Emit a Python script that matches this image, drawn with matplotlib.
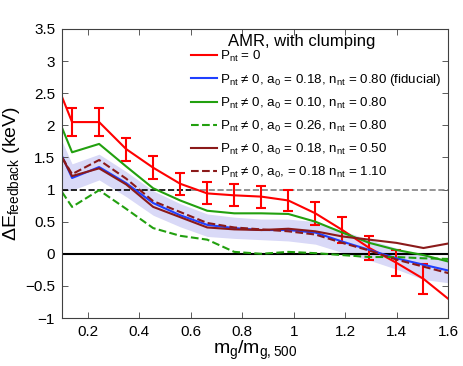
import numpy as np
import matplotlib
matplotlib.use('Agg')
import matplotlib.pyplot as plt

plt.rcParams['font.family'] = ['Liberation Sans', 'DejaVu Sans']
plt.rcParams['mathtext.fontset'] = 'custom'
plt.rcParams['mathtext.rm'] = 'Liberation Sans'
plt.rcParams['mathtext.it'] = 'Liberation Sans'

# mass bins (edges at 0.1 and 1.6 are where lines meet the frame)
x = [0.1, 0.139, 0.244, 0.349, 0.454, 0.559, 0.664, 0.769, 0.874, 0.979,
     1.084, 1.189, 1.294, 1.399, 1.504, 1.6]

red = [2.44, 2.05, 2.05, 1.63, 1.34, 1.09, 0.94, 0.91, 0.89, 0.83,
       0.63, 0.37, 0.09, -0.14, -0.39, -0.70]
red_err = [0.22, 0.22, 0.18, 0.18, 0.17, 0.17, 0.17, 0.17, 0.17,
           0.18, 0.20, 0.19, 0.20, 0.23]

blue = [1.52, 1.18, 1.35, 1.10, 0.79, 0.60, 0.45, 0.40, 0.37, 0.37,
        0.33, 0.19, 0.06, -0.07, -0.17, -0.26]
band_hi = [1.75, 1.40, 1.55, 1.28, 0.98, 0.78, 0.62, 0.57, 0.54, 0.54,
           0.50, 0.36, 0.22, 0.09, -0.02, -0.10]
band_lo = [0.98, 0.99, 1.15, 0.89, 0.60, 0.42, 0.27, 0.24, 0.22, 0.20,
           0.15, 0.02, -0.10, -0.24, -0.40, -0.45]

green = [1.96, 1.58, 1.71, 1.36, 1.02, 0.83, 0.67, 0.63, 0.63, 0.62,
         0.50, 0.33, 0.17, 0.06, -0.02, -0.12]
green_d = [0.96, 0.73, 0.99, 0.70, 0.40, 0.28, 0.22, 0.03, 0.0, 0.03,
           0.01, -0.02, -0.05, -0.05, -0.07, -0.08]
brown = [1.50, 1.21, 1.33, 1.08, 0.73, 0.57, 0.41, 0.38, 0.37, 0.39,
         0.35, 0.27, 0.22, 0.17, 0.09, 0.16]
brown_d = [1.50, 1.24, 1.46, 1.17, 0.82, 0.65, 0.48, 0.41, 0.38, 0.35,
           0.30, 0.17, 0.05, -0.09, -0.20, -0.30]

labels = [r'P$_{\rm nt}$ = 0',
          r'P$_{\rm nt}$ ≠ 0, a$_{\rm 0}$ = 0.18, n$_{\rm nt}$ = 0.80 (fiducial)',
          r'P$_{\rm nt}$ ≠ 0, a$_{\rm 0}$ = 0.10, n$_{\rm nt}$ = 0.80',
          r'P$_{\rm nt}$ ≠ 0, a$_{\rm 0}$ = 0.26, n$_{\rm nt}$ = 0.80',
          r'P$_{\rm nt}$ ≠ 0, a$_{\rm 0}$ = 0.18, n$_{\rm nt}$ = 0.50',
          r'P$_{\rm nt}$ ≠ 0, a$_{\rm 0}$, = 0.18 n$_{\rm nt}$ = 1.10']

fig = plt.figure(figsize=(4.63, 3.66), dpi=100)
ax = fig.add_axes([0.134, 0.131, 0.834, 0.79])

ax.fill_between(x, band_lo, band_hi, color='#d9d9f7', lw=0)
ax.axhline(0, color='k', lw=1.5)
ax.plot([0.1, 0.6], [1, 1], 'k--', lw=1.2)
ax.plot([0.6, 1.6], [1, 1], '--', color='#808080', lw=1.2)

ax.plot(x, red, color='#ff0000', lw=1.5, label=labels[0])
ax.errorbar(x[1:-1], red[1:-1], yerr=red_err, fmt='none', ecolor='#ff0000',
            elinewidth=1.5, capsize=3.8, capthick=1.5)
ax.plot(x, blue, color='#1f3fff', lw=1.5, label=labels[1])
ax.plot(x, green, color='#22a00f', lw=1.5, label=labels[2])
ax.plot(x, green_d, '--', color='#22a00f', lw=1.5, label=labels[3])
ax.plot(x, brown, color='#8b1a1a', lw=1.5, label=labels[4])
ax.plot(x, brown_d, '--', color='#8b1a1a', lw=1.5, label=labels[5])

ax.set_xlim(0.1, 1.6)
ax.set_ylim(-1, 3.5)
ax.set_xticks([0.2, 0.4, 0.6, 0.8, 1, 1.2, 1.4, 1.6])
ax.set_xticklabels(['0.2', '0.4', '0.6', '0.8', '1', '1.2', '1.4', '1.6'])
ax.set_yticks([-1, -0.5, 0, 0.5, 1, 1.5, 2, 2.5, 3, 3.5])
ax.set_yticklabels(['\u22121', '\u22120.5', '0', '0.5', '1', '1.5', '2', '2.5', '3', '3.5'])
ax.tick_params(direction='in', top=True, right=True, labelsize=11, length=4,
               width=0.6, colors='#404040', labelcolor='k', pad=5)
for s in ax.spines.values():
    s.set_color('#404040')
    s.set_linewidth(0.8)

ax.set_xlabel(r'm$_{\rm g}$/m$_{\rm g,500}$', fontsize=14, labelpad=0)
ax.set_ylabel(r'$\Delta$E$_{\rm feedback}$ (keV)', fontsize=14, labelpad=2)

ax.text(0.43, 0.955, 'AMR, with clumping', transform=ax.transAxes,
        fontsize=12, ha='left', va='center')
leg = ax.legend(loc='upper right', bbox_to_anchor=(0.995, 0.95), frameon=False,
                fontsize=9.6, handlelength=1.95, handletextpad=0.2,
                labelspacing=0.6, borderaxespad=0)

fig.savefig('out.png', dpi=100)
